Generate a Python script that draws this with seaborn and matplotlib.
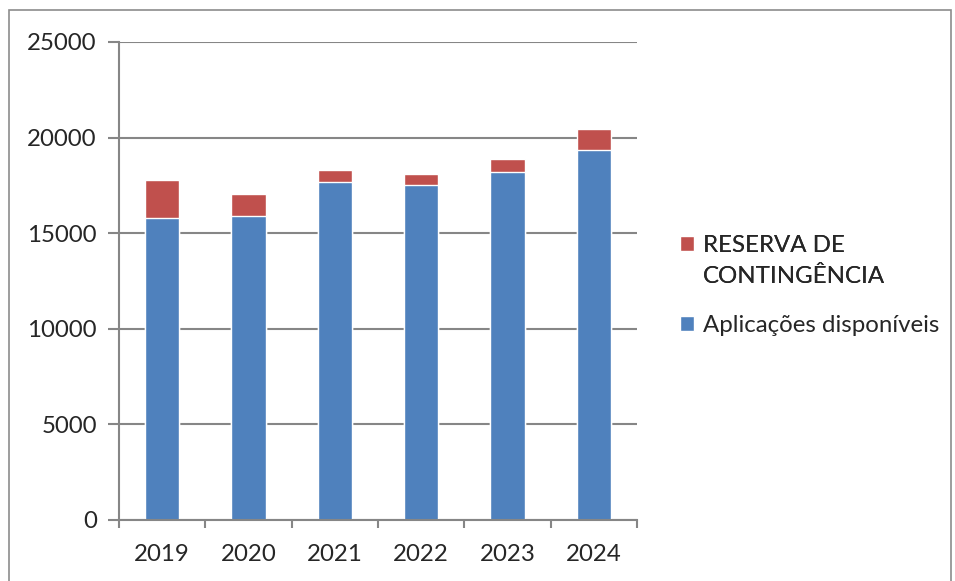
#!/usr/bin/env python3

import pandas as pd
import seaborn as sns
import matplotlib
import matplotlib.pyplot as plt
from matplotlib.patches import Patch, Rectangle

matplotlib.use("Agg")

anos = ["2019", "2020", "2021", "2022", "2023", "2024"]
aplicacoes = [15810, 15910, 17660, 17520, 18200, 19370]
reserva = [1950, 1160, 660, 590, 660, 1060]

cor_azul = "#4F81BD"
cor_vermelho = "#C0504D"
cor_grade = "#868686"
tam_fonte = 17.3


def configure_seaborn():
  sns.set_style("white")
  plt.rcParams['font.family'] = ['Lato', 'DejaVu Sans']


def plot_orcamento(df):
  fig = plt.figure(figsize=(9.55, 5.81), dpi=100)
  ax = fig.add_axes([119 / 955, 1 - 520 / 581, (637 - 119) / 955, (520 - 42) / 581])

  # stacked: total first (red), then the blue base on top of it
  sns.barplot(x='ano', y='total', data=df, color=cor_vermelho, width=0.4,
              saturation=1, ax=ax)
  sns.barplot(x='ano', y='aplicacoes', data=df, color=cor_azul, width=0.4,
              saturation=1, ax=ax)

  ax.set_ylim(0, 25000)
  ax.set_xlim(-0.5, len(anos) - 0.5)
  ax.set_yticks(range(0, 25001, 5000))
  ax.yaxis.grid(True, color=cor_grade, linewidth=1.5)
  ax.set_axisbelow(True)
  for s in ['top', 'right']:
    ax.spines[s].set_visible(False)
  for s in ['left', 'bottom']:
    ax.spines[s].set_color(cor_grade)
    ax.spines[s].set_linewidth(1.5)

  ax.set_xlabel("")
  ax.set_ylabel("")
  ax.tick_params(axis='y', length=8, width=1.5, color=cor_grade, labelsize=tam_fonte,
                 left=True, pad=8)
  ax.tick_params(axis='x', length=0, labelsize=tam_fonte, pad=17)
  # minor ticks between categories on the x axis
  ax.set_xticks([i - 0.5 for i in range(len(anos) + 1)], minor=True)
  ax.tick_params(axis='x', which='minor', length=6, width=1.5, color=cor_grade,
                 bottom=True)

  estilo = dict(frameon=False, fontsize=tam_fonte, handlelength=0.6, handleheight=0.6,
                handletextpad=0.35, borderpad=0, borderaxespad=0, loc='upper left')
  leg1 = fig.legend(handles=[Patch(facecolor=cor_vermelho, label="RESERVA DE"),
                             Patch(facecolor='none', edgecolor='none', label="CONTINGÊNCIA")],
                    bbox_to_anchor=(680 / 955, 1 - 235 / 581), labelspacing=0.42, **estilo)
  fig.add_artist(leg1)
  fig.legend(handles=[Patch(facecolor=cor_azul, label="Aplicações disponíveis")],
             bbox_to_anchor=(680 / 955, 1 - 315 / 581), **estilo)

  fig.patches.append(Rectangle((9 / 955, -0.01), 942 / 955, 1 - 10 / 581 + 0.01,
                               transform=fig.transFigure, fill=False,
                               edgecolor="#8c8c8c", linewidth=1.2))
  fig.savefig("out.png", dpi=100)
  plt.close(fig)


def main():
  configure_seaborn()
  df = pd.DataFrame({'ano': anos, 'aplicacoes': aplicacoes, 'reserva': reserva})
  df['total'] = df['aplicacoes'] + df['reserva']
  plot_orcamento(df)


if __name__ == '__main__':
  main()
